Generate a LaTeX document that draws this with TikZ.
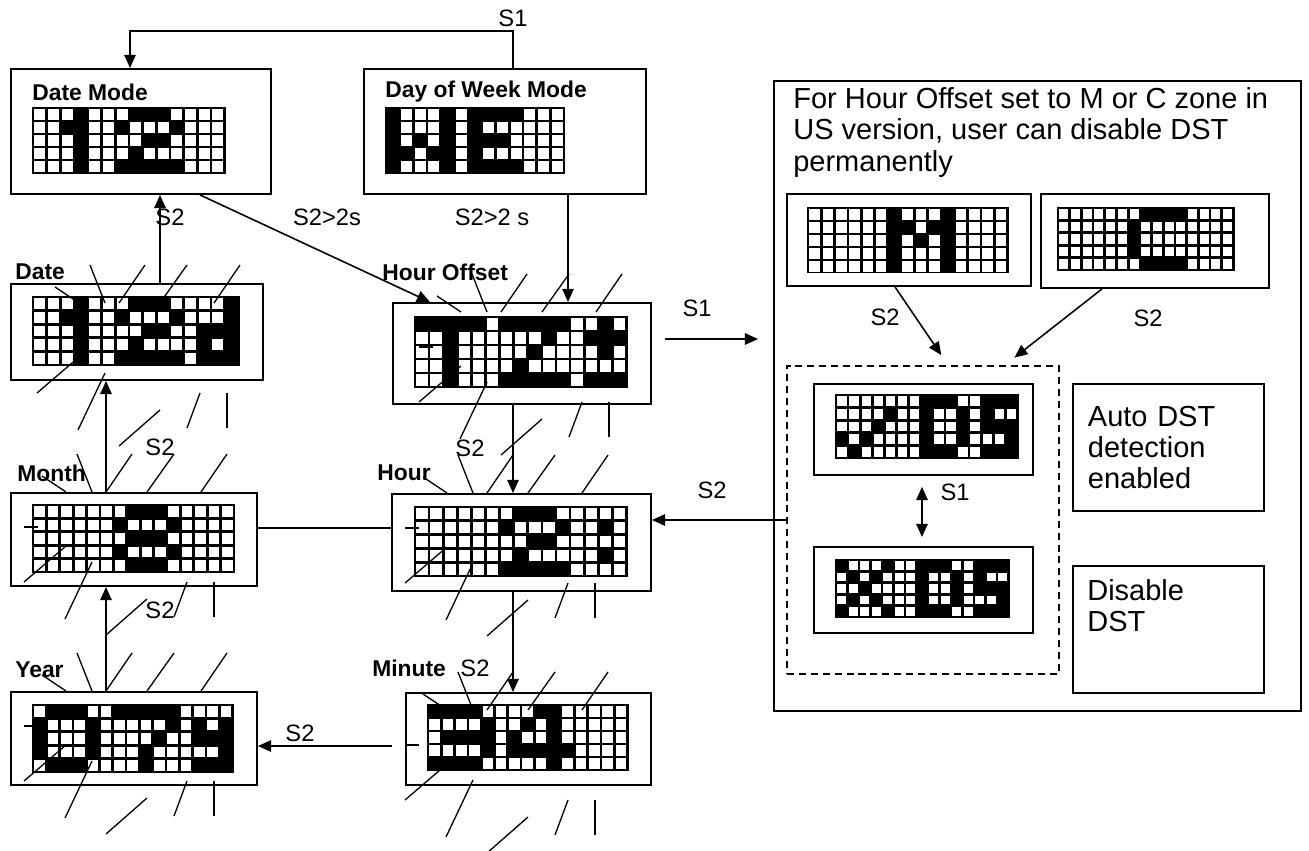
\documentclass[tikz,border=0pt]{standalone}
\usepackage{fontspec}
\setmainfont{Liberation Sans}
\usetikzlibrary{arrows.meta,calc}

\newcommand\pu{0.02cm}

% one LED display: x, y, columns, cell width, cell height, lit cells
\newcommand\ledmatrix[6]{%
  \begin{scope}[shift={(#1,#2)},xscale=#4,yscale=#5]
    \foreach \c in {1,...,#3}
      \foreach \r in {1,...,5}
        \draw[ledcell] (\c-1,\r-1) rectangle (\c,\r);
    \foreach \c/\r in {#6}
      \fill (\c,\r) rectangle ++(1,1);
  \end{scope}}

% flashing strokes round a display that is being set
\newcommand\blink[2]{%
  \begin{scope}[shift={(#1,#2)}]
    \foreach \a/\b/\c/\d in {32/-16/56/0,67/-38/82/0,122/-38/96/0,164/-38/137/0,217/-38/191/0,
      14/35/28/35,56/54/14/90,82/70/55/127,137/107/96/143,177/90/164/125,204/90/204/125}
      \draw[flash] (\a,\b) -- (\c,\d);
  \end{scope}}

\tikzset{
  panel/.style={draw,line width=1.1pt,anchor=north west,inner sep=0pt},
  ledcell/.style={draw=black,fill=white,line width=1.5pt},
  flash/.style={line width=0.75pt},
  arr/.style={-{Triangle[length=7.5pt,width=6.5pt]},line width=0.9pt},
  lab/.style={font=\fontsize{13}{15}\selectfont\bfseries,inner sep=0pt,anchor=west},
  sw/.style={font=\fontsize{13.5}{15}\selectfont,inner sep=0pt},
  bigtxt/.style={font=\fontsize{16.5}{17.9}\selectfont,align=left,inner sep=0pt}
}

\begin{document}
\begin{tikzpicture}[x=0.02cm,y=-0.02cm]
\useasboundingbox (0,0) rectangle (1309,850);

% boxes
\node[panel,minimum width=260*\pu,minimum height=125*\pu] (datemode) at (10,68) {};
\node[panel,minimum width=282*\pu,minimum height=125*\pu] (dow) at (363,68) {};
\node[panel,minimum width=252*\pu,minimum height=96*\pu] (date) at (10,283) {};
\node[panel,minimum width=258*\pu,minimum height=101*\pu] (hoff) at (392,302) {};
\node[panel,minimum width=246*\pu,minimum height=93*\pu] (month) at (10,492) {};
\node[panel,minimum width=259*\pu,minimum height=97*\pu] (hour) at (391,493) {};
\node[panel,minimum width=246*\pu,minimum height=93*\pu] (year) at (10,691) {};
\node[panel,minimum width=245*\pu,minimum height=92*\pu] (minute) at (405,692) {};
\node[panel,minimum width=527*\pu,minimum height=630*\pu] (dst) at (773,80) {};
\node[panel,minimum width=244*\pu,minimum height=92*\pu] (mzone) at (786,193) {};
\node[panel,minimum width=228*\pu,minimum height=94*\pu] (czone) at (1040,193) {};
\node[panel,dash pattern=on 4pt off 2.8pt,line width=0.9pt,minimum width=272*\pu,minimum height=308*\pu] (choice) at (786,365) {};
\node[panel,minimum width=219*\pu,minimum height=91*\pu] (dston) at (813,383) {};
\node[panel,minimum width=219*\pu,minimum height=86*\pu] (dstoff) at (813,546) {};
\node[panel,bigtxt,inner xsep=15*\pu,text width=161*\pu,minimum height=127*\pu] (ontext) at (1072,383) {Auto DST\\detection\\enabled};
\node[panel,minimum width=191*\pu,minimum height=127*\pu] (offtext) at (1072,565) {};
\node[bigtxt,anchor=north west] at ($(offtext.north west)+(15,14)$) {Disable\\DST};
\node[bigtxt,anchor=north west] at (793,87) {For Hour Offset set to M or C zone in\\US version, user can disable DST\\permanently};

% displays
\ledmatrix{33}{108}{14}{13.7}{13}{3/0,3/1,3/2,3/3,3/4,2/1,7/0,8/0,9/0,6/1,10/1,8/2,9/2,7/3,6/4,7/4,8/4,9/4,10/4}
\ledmatrix{386}{108}{13}{13.7}{13}{0/0,4/0,0/1,4/1,0/2,2/2,4/2,0/3,1/3,3/3,4/3,0/4,4/4,
  6/0,7/0,8/0,9/0,6/1,6/2,7/2,8/2,6/3,6/4,7/4,8/4,9/4}
\ledmatrix{33}{297}{15}{13.7}{13.6}{3/0,3/1,3/2,3/3,3/4,2/1,7/0,8/0,9/0,6/1,10/1,8/2,9/2,7/3,6/4,7/4,8/4,9/4,10/4,
  14/0,14/1,12/2,13/2,14/2,12/3,14/3,12/4,13/4,14/4}
\ledmatrix{415}{317}{15}{14.1}{14}{0/0,1/0,2/0,3/0,4/0,2/1,2/2,2/3,2/4,6/0,7/0,8/0,9/0,10/0,9/1,8/2,7/3,6/4,7/4,8/4,9/4,10/4,
  13/0,12/1,13/1,14/1,13/2,12/4,13/4,14/4}
\ledmatrix{33}{505}{15}{13.4}{13.4}{7/0,8/0,9/0,6/1,10/1,7/2,8/2,9/2,6/3,10/3,7/4,8/4,9/4}
\ledmatrix{415}{507}{15}{14.1}{13.8}{7/0,8/0,9/0,6/1,10/1,8/2,9/2,7/3,6/4,7/4,8/4,9/4,10/4,13/1,13/3}
\ledmatrix{33}{705}{15}{13.3}{13.4}{1/0,2/0,3/0,0/1,4/1,0/2,4/2,0/3,4/3,1/4,2/4,3/4,
  6/0,7/0,8/0,9/0,10/0,10/1,9/2,8/3,8/4,12/1,14/1,12/2,13/2,14/2,14/3,12/4,13/4,14/4}
\ledmatrix{428}{705}{15}{13.3}{13}{0/0,1/0,2/0,3/0,4/1,1/2,2/2,3/2,4/2,4/3,0/4,1/4,2/4,3/4,
  8/0,9/0,7/1,9/1,6/2,9/2,6/3,7/3,8/3,9/3,10/3,9/4}
\begin{scope}
  \clip (800,200) rectangle (1015,272);
  \ledmatrix{808}{208}{15}{13.3}{13}{6/0,6/1,6/2,6/3,6/4,10/0,10/1,10/2,10/3,10/4,7/1,9/1,8/2}
\end{scope}
\ledmatrix{1058}{208}{15}{11.7}{12.4}{7/0,8/0,9/0,10/0,6/1,6/2,6/3,7/4,8/4,9/4,10/4}
\ledmatrix{836}{395}{15}{12.1}{12.6}{4/1,3/2,0/3,2/3,1/4,7/0,8/0,9/0,7/1,10/1,7/2,10/2,7/3,10/3,7/4,8/4,9/4,
  12/0,13/0,14/0,12/1,12/2,13/2,14/2,14/3,12/4,13/4,14/4}
\ledmatrix{836}{560}{15}{11.5}{11.4}{0/0,4/0,1/1,3/1,2/2,1/3,3/3,0/4,4/4,7/0,8/0,9/0,7/1,10/1,7/2,10/2,7/3,10/3,7/4,8/4,9/4,
  12/0,13/0,14/0,12/1,12/2,13/2,14/2,14/3,12/4,13/4,14/4}

% flashing digits
\blink{23}{303}
\blink{405}{312}
\blink{10}{492}
\blink{391}{493}
\blink{10}{691}
\blink{391}{710}

% connectors
\coordinate (s1top) at (130,31);
\coordinate (xa) at (160,0);
\coordinate (xb) at (106,0);
\coordinate (xc) at (513,0);
\coordinate (xd) at (568,0);
\coordinate (xdm) at (200,0);
\coordinate (xho) at (430,0);
\coordinate (ymh) at (0,528);
\coordinate (ymy) at (0,746);
\coordinate (ys1) at (0,339);
\coordinate (ydh) at (0,520);
\coordinate (xm) at (895,0);
\coordinate (xmend) at (948,0);
\coordinate (xcz) at (1102,0);
\coordinate (xczend) at (1005,0);
\coordinate (xt) at (922,0);
\draw[arr] (dow.north -| xc) |- (s1top) -- (datemode.north -| s1top);
\draw[arr] (date.north -| xa) -- (datemode.south -| xa);
\draw[arr] (datemode.south -| xdm) -- (hoff.north -| xho);
\draw[arr] (dow.south -| xd) -- (hoff.north -| xd);
\draw[arr] (hoff.south -| xc) -- (hour.north -| xc);
\draw[arr] (hour.south -| xc) -- (minute.north -| xc);
\draw[arr,shorten <=7.4pt] (minute.west |- ymy) -- (year.east |- ymy);
\draw[arr] (year.north -| xb) -- (month.south -| xb);
\draw[arr] (month.north -| xb) -- (date.south -| xb);
\draw[line width=0.9pt] (month.east |- ymh) -- (hour.west |- ymh);
\draw[arr,shorten <=7.4pt,shorten >=8.5pt] (hoff.east |- ys1) -- (dst.west |- ys1);
\draw[arr] (choice.west |- ydh) -- (hour.east |- ydh);
\draw[arr,shorten >=6.8pt] (mzone.south -| xm) -- (choice.north -| xmend);
\draw[arr,shorten >=6.8pt] (czone.south -| xcz) -- (choice.north -| xczend);
\draw[{Triangle[length=7.5pt,width=6.5pt]}-{Triangle[length=7.5pt,width=6.5pt]},line width=0.9pt,shorten <=6.2pt,shorten >=5.1pt]
  (dston.south -| xt) -- (dstoff.north -| xt);

% labels
\node[lab] at (32,92) {Date Mode};
\node[lab] at (385,92) {Day of Week Mode};
\node[lab] at (15,272) {Date};
\node[lab] at (382,272) {Hour Offset};
\node[lab] at (17,473) {Month};
\node[lab] at (377,473) {Hour};
\node[lab] at (15,670) {Year};
\node[lab] at (372,668) {Minute};
\node[sw] at (513,18) {S1};
\node[sw] at (170,217) {S2};
\node[sw] at (327,217) {S2>2s};
\node[sw] at (492,217) {S2>2 s};
\node[sw] at (697,308) {S1};
\node[sw] at (885,317) {S2};
\node[sw] at (1148,318) {S2};
\node[sw] at (470,448) {S2};
\node[sw] at (160,447) {S2};
\node[sw] at (712,490) {S2};
\node[sw] at (955,492) {S1};
\node[sw] at (160,610) {S2};
\node[sw] at (475,668) {S2};
\node[sw] at (300,733) {S2};
\end{tikzpicture}
\end{document}
